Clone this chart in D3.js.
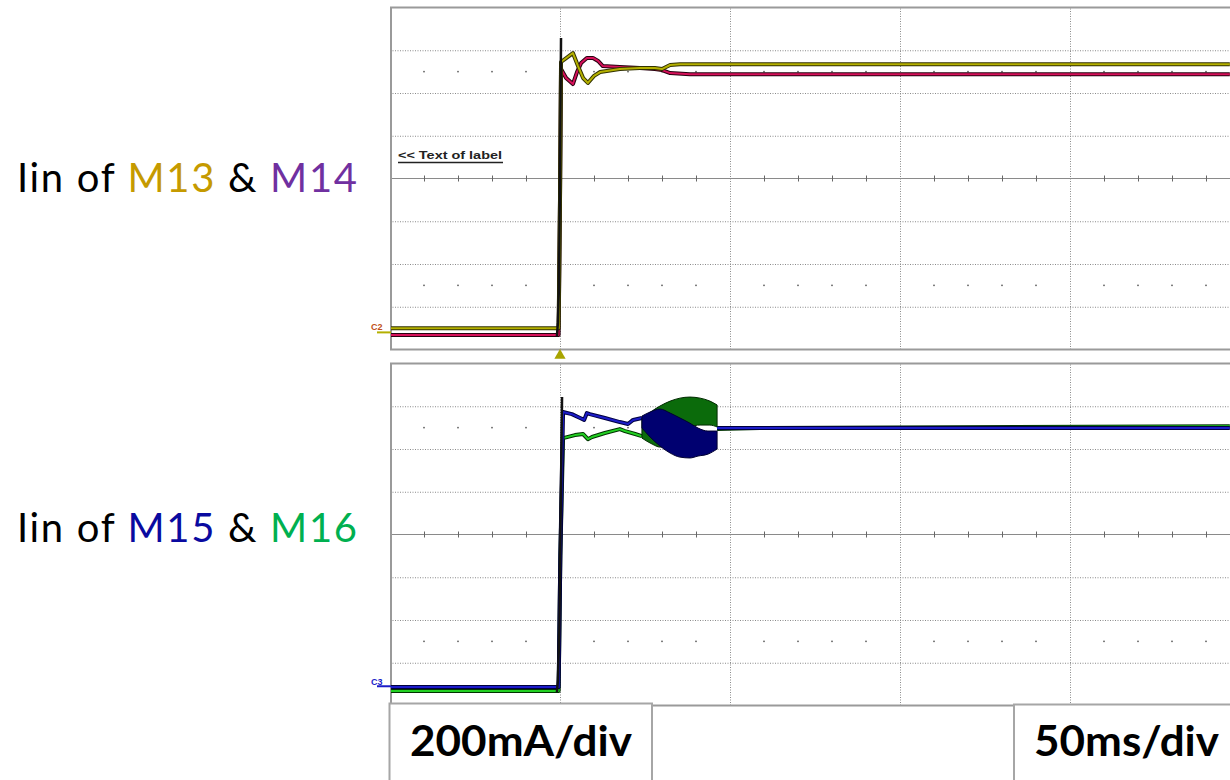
<html>
<head>
<script src="https://d3js.org/d3.v7.min.js"></script>
<style>
  body { margin: 0; background: white; }
  svg text { font-family: Lato, "Open Sans", sans-serif; }
</style>
</head>
<body>
<svg id="chart" width="1230" height="780"></svg>
<script>
// time in ms (50ms/div), current in mA (200mA/div), zero at the channel marker
const xGrid = [50, 100, 150, 200];
const yGrid = [100, 300, 500, 900, 1100, 1300];
const yCenter = 700;
const yDots = [200, 1200];
const minorTicks = d3.range(10, 250, 10).filter(function(d) { return d % 50 != 0; });

// top panel: M13 (yellow), M14 (magenta)
const m13T = [0.3, 49.6, 50.0, 50.3, 53.8, 55.3, 56.8, 58.2, 60.0, 61.8, 67.6, 73.5, 77.9, 80.0, 82.4, 85.3, 91.2, 247];
const m13I = [0, 0, 600, 1245, 1287, 1226, 1170, 1147, 1180, 1198, 1212, 1217, 1217, 1212, 1231, 1235, 1235, 1235];
const m14T = [0.3, 49.6, 50.0, 50.3, 51.8, 53.8, 55.0, 56.2, 57.9, 59.7, 61.2, 62.6, 67.6, 73.5, 77.9, 80.0, 82.4, 88.2, 247];
const m14I = [-32, -32, 600, 1212, 1170, 1142, 1198, 1240, 1264, 1264, 1250, 1226, 1222, 1217, 1212, 1207, 1193, 1188, 1188];
const step1T = [49.1, 49.4, 49.7, 50.0, 50.3];
const step1I = [-37, 28, 200, 700, 1357];

// bottom panel: M15 (blue), M16 (green)
const m15T = [0.3, 49.6, 50.1, 50.9, 53.5, 55.9, 57.1, 57.9, 58.8, 63.2, 67.6, 70.0, 71.5, 74.1, 85, 96.2, 247];
const m15I = [-14, -14, 600, 1273, 1263, 1245, 1236, 1268, 1263, 1245, 1226, 1217, 1236, 1245, null, 1198, 1198];
const m16T = [0.3, 49.6, 50.1, 50.9, 54.4, 56.8, 58.2, 59.4, 63.2, 67.6, 69.1, 72.1, 74.1, 85, 96.2, 108.8, 247];
const m16I = [-32, -32, 600, 1151, 1165, 1170, 1146, 1156, 1175, 1193, 1184, 1170, 1160, null, 1193, 1198, 1207];
const step2T = [49.1, 49.4, 49.8, 50.2, 50.6];
const step2I = [-37, 19, 250, 800, 1343];

// oscillation envelopes
const m16EnvT = [74.1, 77.1, 79.4, 82.4, 85.3, 88.2, 91.2, 94.1, 96.2];
const m16EnvHi = [1245, 1278, 1301, 1324, 1338, 1343, 1338, 1324, 1306];
const m16EnvLo = [1151, 1123, 1109, 1114, 1142, 1203, 1212, 1212, 1203];
const m15EnvT = [74.1, 76.5, 79.4, 82.4, 85.3, 88.2, 90.6, 93.5, 96.2];
const m15EnvHi = [1254, 1273, 1287, 1268, 1245, 1221, 1198, 1184, 1184];
const m15EnvLo = [1198, 1156, 1114, 1081, 1062, 1058, 1067, 1076, 1100];

var svg = d3.select("#chart");
var x = d3.scaleLinear().domain([0, 250]).range([390, 1240]);
var H = 342;

function zip(t, v) { return t.map(function(d, i) { return {t: d, v: v[i]}; }); }

function panel(y0) {
  var y = d3.scaleLinear().domain([-100, 1500]).range([y0 + H, y0]);
  var g = svg.append("g");
  // vertical grid
  g.append("g").attr("transform", "translate(0," + (y0 + H) + ")")
    .call(d3.axisBottom(x).tickValues(xGrid).tickSize(-H).tickFormat(""))
    .call(function(a) { a.select(".domain").remove(); })
    .selectAll("line").attr("stroke", "#8a8a8a").attr("stroke-dasharray", "1,1.5");
  // horizontal grid
  g.append("g").attr("transform", "translate(390,0)")
    .call(d3.axisLeft(y).tickValues(yGrid).tickSize(-850).tickFormat(""))
    .call(function(a) { a.select(".domain").remove(); })
    .selectAll("line").attr("stroke", "#8a8a8a").attr("stroke-dasharray", "1,1.5");
  // centre line with minor ticks
  g.append("line").attr("x1", 390).attr("x2", 1240)
    .attr("y1", y(yCenter)).attr("y2", y(yCenter)).attr("stroke", "#8a8a8a");
  g.append("g").attr("transform", "translate(0," + (y(yCenter) - 3) + ")")
    .call(d3.axisBottom(x).tickValues(minorTicks).tickSize(6).tickFormat(""))
    .call(function(a) { a.select(".domain").remove(); })
    .selectAll("line").attr("stroke", "#666");
  // dot rows
  yDots.forEach(function(v) {
    g.selectAll(null).data(minorTicks).enter().append("rect")
      .attr("x", function(d) { return x(d) - 0.75; }).attr("y", y(v) - 0.75)
      .attr("width", 1.5).attr("height", 1.5).attr("fill", "#555");
  });
  // frame
  g.append("rect").attr("x", 391).attr("y", y0).attr("width", 860).attr("height", H)
    .attr("fill", "none").attr("stroke", "#9a9a9a").attr("stroke-width", 2);
  return y;
}

function trace(y, t, v, color, edge) {
  var line = d3.line().defined(function(d) { return d.v !== null; })
    .x(function(d) { return x(d.t); }).y(function(d) { return y(d.v); });
  var data = zip(t, v);
  svg.append("path").attr("d", line(data)).attr("fill", "none")
    .attr("stroke", edge).attr("stroke-width", 4).attr("stroke-linejoin", "round");
  svg.append("path").attr("d", line(data)).attr("fill", "none")
    .attr("stroke", color).attr("stroke-width", 2).attr("stroke-linejoin", "round");
}

function envelope(y, t, hi, lo, color, edge) {
  var area = d3.area().x(function(d) { return x(d.t); })
    .y0(function(d) { return y(d.lo); }).y1(function(d) { return y(d.hi); })
    .curve(d3.curveMonotoneX);
  var data = t.map(function(d, i) { return {t: d, hi: hi[i], lo: lo[i]}; });
  svg.append("path").attr("d", area(data)).attr("fill", color)
    .attr("stroke", edge).attr("stroke-width", 1);
}

function stepLine(y, t, v) {
  var line = d3.line().x(function(d) { return x(d.t); }).y(function(d) { return y(d.v); });
  svg.append("path").attr("d", line(zip(t, v))).attr("fill", "none")
    .attr("stroke", "#111").attr("stroke-width", 2.5);
}

// top panel
var yTop = panel(7.5);
trace(yTop, m14T, m14I, "#d6115a", "#2a0010");
trace(yTop, m13T, m13I, "#b4b000", "#333300");
stepLine(yTop, step1T, step1I);

// bottom panel
var yBot = panel(363.5);
trace(yBot, m16T, m16I, "#22d022", "#003300");
trace(yBot, m15T, m15I, "#1c1cc8", "#000040");
envelope(yBot, m16EnvT, m16EnvHi, m16EnvLo, "#0b6b0b", "#002a00");
envelope(yBot, m15EnvT, m15EnvHi, m15EnvLo, "#000070", "#000030");
stepLine(yBot, step2T, step2I);

// channel markers
svg.append("line").attr("x1", 377).attr("x2", 391).attr("y1", yTop(-20)).attr("y2", yTop(-20))
  .attr("stroke", "#b4b000").attr("stroke-width", 2);
svg.append("text").attr("x", 371).attr("y", yTop(0) + 2).attr("font-size", 9).attr("font-weight", "bold")
  .style("font-family", "Liberation Sans").attr("fill", "#c0501a").text("C2");
svg.append("line").attr("x1", 377).attr("x2", 391).attr("y1", yBot(-10)).attr("y2", yBot(-10))
  .attr("stroke", "#1c1cc8").attr("stroke-width", 2);
svg.append("text").attr("x", 371).attr("y", yBot(0) + 1).attr("font-size", 9).attr("font-weight", "bold")
  .style("font-family", "Liberation Sans").attr("fill", "#1c1cc8").text("C3");

// trigger marker
svg.append("path").attr("d", d3.symbol().type(d3.symbolTriangle).size(55)())
  .attr("transform", "translate(" + x(50) + ",355.5)").attr("fill", "#a8a400");

// "<< Text of label"
svg.append("text").attr("x", 398).attr("y", 159).attr("font-size", 11).attr("font-weight", "bold")
  .style("font-family", "Liberation Sans").attr("fill", "#222")
  .attr("textLength", 104).attr("lengthAdjust", "spacingAndGlyphs").text("<< Text of label");
svg.append("line").attr("x1", 398).attr("x2", 503).attr("y1", 162.5).attr("y2", 162.5)
  .attr("stroke", "#222").attr("stroke-width", 1.3);

// left labels
function label(yb, a, ca, b, cb) {
  var t = svg.append("text").attr("x", 17).attr("y", yb).attr("font-size", 40)
    .attr("textLength", 340).attr("lengthAdjust", "spacing");
  t.append("tspan").attr("fill", "#000").text("Iin of ");
  t.append("tspan").attr("fill", ca).text(a);
  t.append("tspan").attr("fill", "#000").text(" & ");
  t.append("tspan").attr("fill", cb).text(b);
}
label(192, "M13", "#c59a00", "M14", "#7030a0");
label(542, "M15", "#0a0aa0", "M16", "#00b050");

// scale boxes
function box(x0, y0, w, tx, tw, txt) {
  svg.append("rect").attr("x", x0).attr("y", y0).attr("width", w).attr("height", 90)
    .attr("fill", "white").attr("stroke", "#a6a6a6").attr("stroke-width", 2);
  svg.append("text").attr("x", tx).attr("y", 756).attr("font-size", 42).attr("font-weight", "bold")
    .attr("fill", "#000").attr("textLength", tw).attr("lengthAdjust", "spacingAndGlyphs").text(txt);
}
box(389.5, 703.5, 262.5, 410, 222, "200mA/div");
box(1014, 704.5, 230, 1034, 185, "50ms/div");
</script>
</body>
</html>
